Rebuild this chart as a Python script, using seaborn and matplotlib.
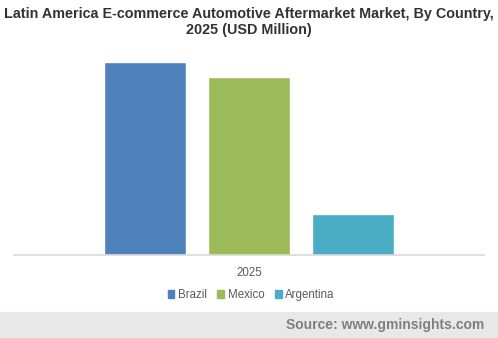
import matplotlib
matplotlib.use("Agg")
import matplotlib.pyplot as plt
import seaborn as sns
import pandas as pd
from matplotlib.patches import Rectangle

years = ["2025"]
countries = ["Brazil", "Mexico", "Argentina"]
values = [193, 178, 41]
colors = ["#4F81BD", "#9BBB59", "#4BACC6"]

df = pd.DataFrame({"Year": years * 3, "Country": countries, "Value": values})

sns.set_theme(style="white")
plt.rcParams["font.family"] = ["Liberation Sans", "DejaVu Sans"]

fig = plt.figure(figsize=(4.98, 3.38), dpi=100)
ax = fig.add_axes([14/498, (338-255)/338, 470/498, (255-45)/338])

sns.barplot(data=df, x="Year", y="Value", hue="Country", hue_order=countries,
            palette=colors, width=0.664, gap=0.21, saturation=1, ax=ax, legend=False)
ax.set_xlim(-0.5, 0.5)
ax.set_ylim(0, 210)
ax.set_xlabel("")
ax.set_ylabel("")
ax.set_yticks([])
for s in ["top", "left", "right"]:
    ax.spines[s].set_visible(False)
ax.spines["bottom"].set_color("#d9d9d9")
ax.spines["bottom"].set_linewidth(1.2)
ax.tick_params(axis="x", length=0, pad=9, labelsize=8.3, labelcolor="#595959")

handles = [Rectangle((0, 0), 1, 1, color=c) for c in colors]
fig.legend(handles, countries, loc="center", bbox_to_anchor=(251/498, 1-295/338),
           ncol=3, frameon=False, fontsize=8.3, labelcolor="#595959",
           handlelength=0.6, handleheight=0.6, handletextpad=0.3, columnspacing=0.9)

fig.text(0.5, 1-22/338, "Latin America E-commerce Automotive Aftermarket Market, By Country,\n2025 (USD Million)",
         ha="center", va="center", fontsize=10.4, fontweight="bold", color="#333333", linespacing=1.25)

fig.patches.append(Rectangle((0, 0), 1, 26/338, transform=fig.transFigure, color="#e8e8e8", zorder=0))
fig.text(484/498, 1-325/338, "Source: www.gminsights.com", ha="right", va="center",
         fontsize=10, fontweight="bold", color="#7f7f7f")

fig.savefig("out.png", dpi=100)
